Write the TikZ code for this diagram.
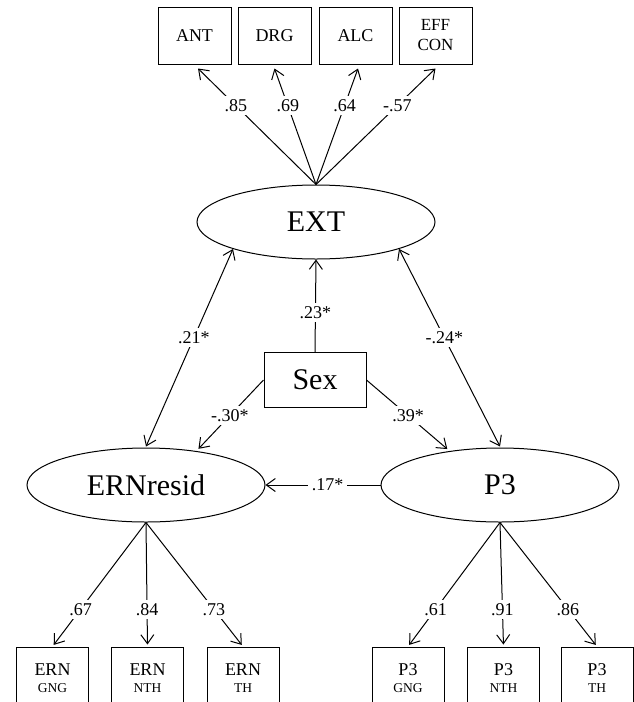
\documentclass[tikz,border=0pt]{standalone}
\usepackage{fontspec}
\setmainfont{Liberation Serif}
\usetikzlibrary{arrows.meta,shapes.geometric,calc}
\newcommand\smallsub{\fontsize{13.5}{18}\selectfont}
\begin{document}
\begin{tikzpicture}[x=1pt,y=-1pt,line width=1pt,
  box/.style={draw,minimum width=73pt,minimum height=57pt,inner sep=0pt,align=center,font=\fontsize{18}{20}\selectfont},
  obox/.style={draw,minimum width=72pt,minimum height=62pt,inner sep=0pt,align=center,font=\fontsize{18}{18}\selectfont},
  lat/.style={draw,ellipse,minimum width=238pt,minimum height=74pt,inner sep=0pt,font=\fontsize{30}{32}\selectfont},
  sexbox/.style={draw,minimum width=102pt,minimum height=55pt,inner sep=0pt,font=\fontsize{30}{32}\selectfont},
  lab/.style={fill=white,inner sep=3.5pt,font=\fontsize{18}{20}\selectfont},
  arr/.style={-{Straight Barb[length=9pt,width=13pt]}},
  dbl/.style={{Straight Barb[length=9pt,width=13pt]}-{Straight Barb[length=9pt,width=13pt]}}
]
\fill[white] (0,0) rectangle (634,702);
\useasboundingbox (0,0) rectangle (634,702);

% top indicators
\node[box] (ANT) at (194.5,35.5) {ANT};
\node[box] (DRG) at (274.5,35.5) {DRG};
\node[box] (ALC) at (355.5,35.5) {ALC};
\node[box,font=\fontsize{17}{20}\selectfont] (EFF) at (435.5,35.5) {EFF\\CON};

% latent variables
\node[lat] (EXT) at (316,222) {EXT};
\node[lat] (ERN) at (146,485) {ERNresid};
\node[lat] (P3) at (500,485) {P3};
\node[sexbox] (Sex) at (315,380) {Sex};

% bottom indicators
\node[obox] (EG) at (52.5,678) {ERN\\[-1pt]{\smallsub GNG}};
\node[obox] (EN) at (147.5,678) {ERN\\[-1pt]{\smallsub NTH}};
\node[obox] (ET) at (243,678) {ERN\\[-1pt]{\smallsub TH}};
\node[obox] (PG) at (408,678) {P3\\[-1pt]{\smallsub GNG}};
\node[obox] (PN) at (503.5,678) {P3\\[-1pt]{\smallsub NTH}};
\node[obox] (PT) at (597,678) {P3\\[-1pt]{\smallsub TH}};

% EXT loadings
\draw[arr] (EXT.north) -- node[lab,pos=0.68] {.85} ($(ANT.south)+(3.5,4)$);
\draw[arr] (EXT.north) -- node[lab,pos=0.68] {.69} ($(DRG.south)+(0,4)$);
\draw[arr] (EXT.north) -- node[lab,pos=0.68] {.64} ($(ALC.south)+(2.5,4)$);
\draw[arr] (EXT.north) -- node[lab,pos=0.68] {-.57} ($(EFF.south)+(0,4)$);

% structural paths
\draw[arr] (Sex.north) -- node[lab,pos=0.43] {.23*} (EXT.south);
\draw[dbl] (EXT.198) -- node[lab,pos=0.45] {.21*} ([yshift=1pt]ERN.north);
\draw[dbl] (EXT.342) -- node[lab,pos=0.45] {-.24*} ([yshift=1pt]P3.north);
\draw[arr,shorten >=3pt] (Sex.west) -- node[lab,pos=0.5] {-.30*} (ERN.34);
\draw[arr,shorten >=3pt] (Sex.east) -- node[lab,pos=0.5] {.39*} (P3.146);
\draw[arr] (P3.west) -- node[lab,pos=0.46] {.17*} (ERN.east);

% ERN loadings
\draw[arr,shorten >=2pt] (ERN.south) -- node[lab,pos=0.7] {.67} (EG.north);
\draw[arr,shorten >=2pt] (ERN.south) -- node[lab,pos=0.7] {.84} (EN.north);
\draw[arr,shorten >=2pt] (ERN.south) -- node[lab,pos=0.7] {.73} (ET.north);

% P3 loadings
\draw[arr,shorten >=2pt] (P3.south) -- node[lab,pos=0.7] {.61} (PG.north);
\draw[arr,shorten >=2pt] (P3.south) -- node[lab,pos=0.7] {.91} (PN.north);
\draw[arr,shorten >=2pt] (P3.south) -- node[lab,pos=0.7] {.86} (PT.north);
\end{tikzpicture}
\end{document}
